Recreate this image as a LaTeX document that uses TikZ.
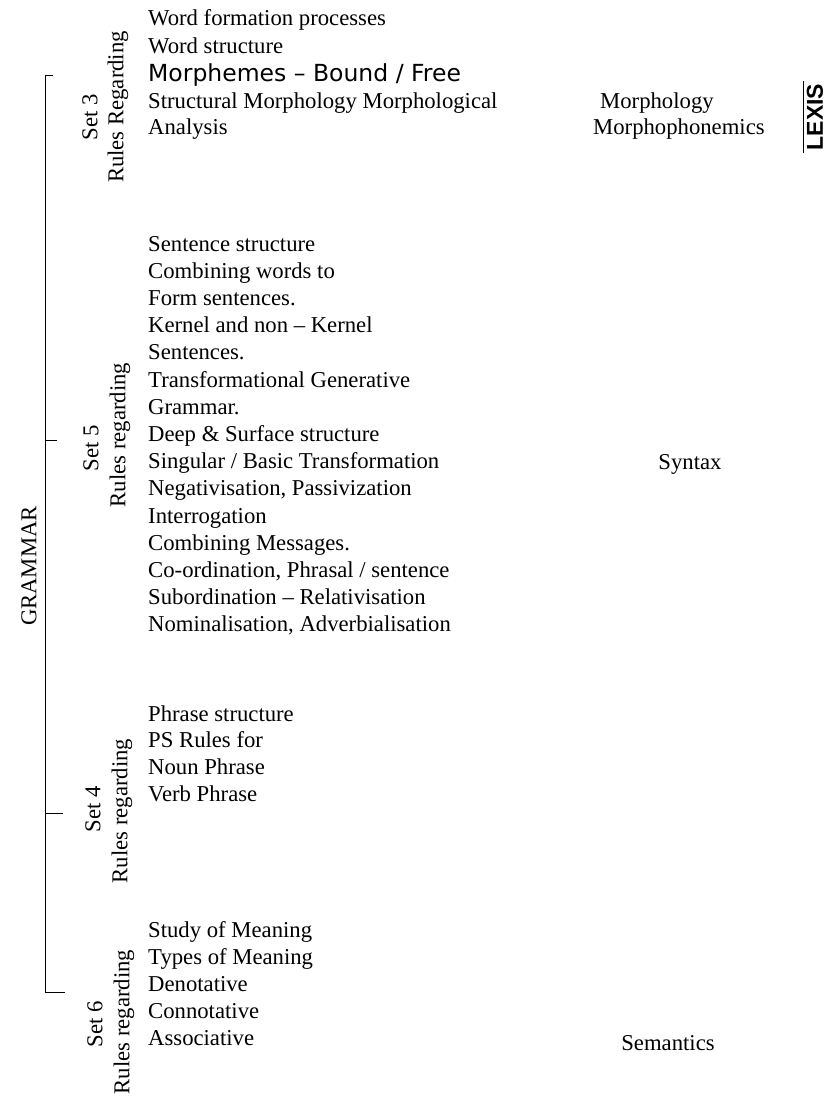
\documentclass[tikz,border=0pt]{standalone}
\usepackage{fontspec}
\setmainfont{Liberation Serif}
\newfontfamily\vsans{DejaVu Sans}
\newfontfamily\lexisfont{Liberation Sans}
\begin{document}
\begin{tikzpicture}[x=1pt,y=-1pt,
  txt/.style={anchor=base west,inner sep=0pt,font=\fontsize{22.7}{27}\selectfont},
  sans/.style={anchor=base west,inner sep=0pt,font=\vsans\fontsize{23.5}{27}\selectfont},
  rot/.style={rotate=90,inner sep=0pt,font=\fontsize{22.7}{27}\selectfont},
  brk/.style={line width=0.9pt}]
\useasboundingbox (0,0) rectangle (827,1097);
% bracket
\coordinate (b0) at (45,75);
\coordinate (b0e) at (53,75);
\coordinate (b1) at (45,440);
\coordinate (b1e) at (57,440);
\coordinate (b2) at (45,813);
\coordinate (b2e) at (63,813);
\coordinate (b3) at (45,992);
\coordinate (b3e) at (65,992);
\draw[brk] (b0e) -- (b0) -- (b3) -- (b3e);
\draw[brk] (b1) -- (b1e);
\draw[brk] (b2) -- (b2e);
\node[rot] (grammar) at (29,566) {GRAMMAR};
% set labels
\node[rot] (set3) at (90,117) {Set 3};
\node[rot] (rr3) at (118,107) {Rules Regarding};
\node[rot] (set5) at (91,448) {Set 5};
\node[rot] (rr5) at (120,435) {Rules regarding};
\node[rot] (set4) at (93,809) {Set 4};
\node[rot] (rr4) at (122,811) {Rules regarding};
\node[rot] (set6) at (95,1024) {Set 6};
\node[rot] (rr6) at (124,1022) {Rules regarding};
% block Set 3
\node[txt] (m1) at (148,26) {Word formation processes};
\node[txt] (m2) at (148,53.5) {Word structure};
\node[sans] (m3) at (148,81.5) {Morphemes – Bound / Free};
\node[txt] (m4) at (148,108.5) {Structural Morphology Morphological};
\node[txt] (m5) at (148,135) {Analysis};
\node[txt] (morph) at (600,108.5) {Morphology};
\node[txt] (morphph) at (593,135) {Morphophonemics};
% LEXIS
\node[rotate=90,inner sep=0pt,font=\lexisfont\bfseries\fontsize{23}{27}\selectfont] (lexis) at (815,117) {LEXIS};
\draw[line width=0.9pt,shorten <=-3pt,shorten >=-3pt] ([xshift=-3pt]lexis.north west) -- ([xshift=-3pt]lexis.north east);
% block Set 5
\foreach \t [count=\i from 0] in {Sentence structure,Combining words to,Form sentences.,Kernel and non – Kernel,Sentences.,Transformational Generative,Grammar.,Deep \& Surface structure,Singular / Basic Transformation,{Negativisation, Passivization},Interrogation,Combining Messages.,{Co-ordination, Phrasal / sentence},Subordination – Relativisation,{Nominalisation, Adverbialisation}}
  \node[txt] (s5-\i) at (148,{251+27.2*\i}) {\t};
\node[txt,anchor=base] (syntax) at (690,469) {Syntax};
% block Set 4
\foreach \t [count=\i from 0] in {Phrase structure,PS Rules for,Noun Phrase,Verb Phrase}
  \node[txt] (s4-\i) at (148,{721+26.8*\i}) {\t};
% block Set 6
\foreach \t [count=\i from 0] in {Study of Meaning,Types of Meaning,Denotative,Connotative,Associative}
  \node[txt] (s6-\i) at (148,{937+27*\i}) {\t};
\node[txt,anchor=base] (sem) at (668,1050) {Semantics};
\end{tikzpicture}
\end{document}
